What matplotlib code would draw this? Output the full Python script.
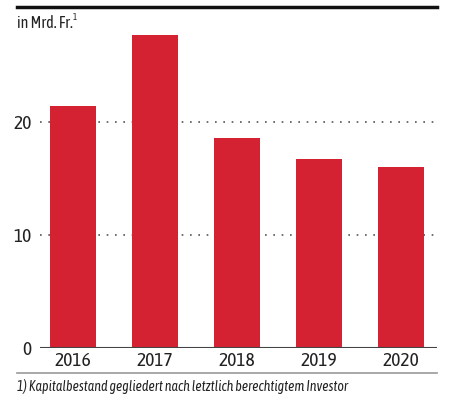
import matplotlib.pyplot as plt

# Daten
jahre = ["2016", "2017", "2018", "2019", "2020"]
werte = [21.4, 27.7, 18.6, 16.7, 16.0]
y_ticks = [0, 10, 20]

rot = "#d42232"
plt.rcParams["font.family"] = ["Asap Condensed", "Archivo Narrow", "DejaVu Sans"]

fig = plt.figure(figsize=(4.62, 3.96), dpi=100)
ax = fig.add_axes([40 / 462, 48 / 396, 397 / 462, 328 / 396])

x = list(range(len(jahre)))
ax.bar(x, werte, width=0.56, color=rot, zorder=2)

ax.set_xlim(-0.40, 4.44)
ax.set_ylim(0, 29)
ax.set_yticks(y_ticks)
ax.set_yticklabels([str(t) for t in y_ticks], fontsize=14, color="#222222")
ax.set_xticks(x)
ax.set_xticklabels(jahre, fontsize=14, color="#222222")
ax.tick_params(axis="both", length=0)
ax.tick_params(axis="y", pad=6)
ax.tick_params(axis="x", pad=3)

for t in y_ticks[1:]:
    ax.axhline(t, color="#555555", linestyle=(0, (1, 4)), linewidth=1.2, zorder=1)
ax.axhline(0, color="#444444", linewidth=1.5, zorder=3)

for s in ax.spines.values():
    s.set_visible(False)

# Rahmen und Beschriftung
fig.add_artist(plt.Line2D([17 / 462, 437 / 462], [1 - 7 / 396] * 2, color="#111111", linewidth=2.5))
fig.add_artist(plt.Line2D([17 / 462, 437 / 462], [1 - 373 / 396] * 2, color="#999999", linewidth=1.2))
fig.text(17 / 462, 1 - 23 / 396, "in Mrd. Fr.", fontsize=11.5, color="#222222", va="center")
fig.text(73 / 462, 1 - 18 / 396, "1", fontsize=6.5, color="#222222", va="center")
fig.text(17 / 462, 1 - 387 / 396, "1) Kapitalbestand gegliedert nach letztlich berechtigtem Investor",
         fontsize=10, style="italic", color="#222222", va="center")

fig.savefig("out.png", dpi=100)
